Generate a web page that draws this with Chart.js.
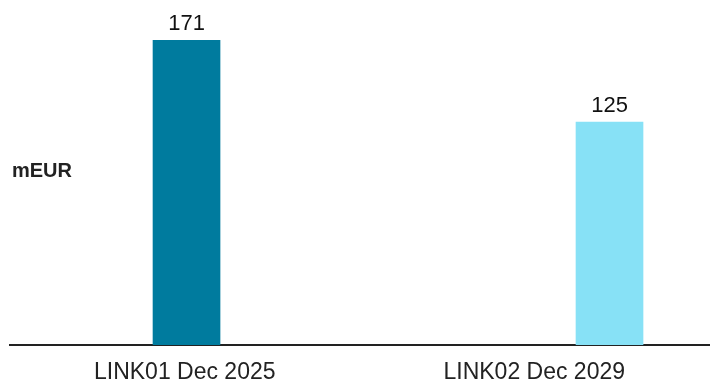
<!DOCTYPE html>
<html>
<head>
<meta charset="utf-8">
<script src="https://cdn.jsdelivr.net/npm/chart.js@4/dist/chart.umd.min.js"></script>
<style>
  html, body { margin: 0; padding: 0; background: #fff; }
  .wrap { position: relative; width: 710px; height: 381px; }
</style>
</head>
<body>
<div class="wrap"><canvas id="chart"></canvas></div>
<script>
const categories = ['LINK01 Dec 2025', 'LINK02 Dec 2029'];
const values = [171, 125];
const unitLabel = 'mEUR';

const barColors = ['#007b9e', '#87e1f6'];

Chart.defaults.font.family = "'Liberation Sans', Arial, sans-serif";

// value labels above bars + unit text on the left
const labelsPlugin = {
  id: 'labels',
  afterDatasetsDraw(chart) {
    const ctx = chart.ctx;
    ctx.save();
    ctx.fillStyle = '#111';
    ctx.font = "22px 'Liberation Sans', Arial, sans-serif";
    ctx.textAlign = 'center';
    ctx.textBaseline = 'alphabetic';
    chart.getDatasetMeta(0).data.forEach((bar, i) => {
      ctx.fillText(String(values[i]), bar.x, bar.y - 10);
    });
    ctx.font = "bold 20px 'Liberation Sans', Arial, sans-serif";
    ctx.textAlign = 'left';
    ctx.fillStyle = '#222';
    ctx.fillText(unitLabel, 12, 177);
    ctx.restore();
  }
};

new Chart(document.getElementById('chart'), {
  type: 'bar',
  data: {
    labels: categories,
    datasets: [{
      data: values.map((v, i) => ({ x: i, y: v })),
      xAxisID: 'xb',
      backgroundColor: barColors,
      borderWidth: 0,
      barThickness: 67
    }]
  },
  options: {
    responsive: true,
    maintainAspectRatio: false,
    animation: false,
    layout: { padding: { top: 40, left: 10, right: 1, bottom: 0 } },
    plugins: {
      legend: { display: false },
      tooltip: { enabled: false }
    },
    scales: {
      x: {
        type: 'category',
        offset: true,
        grid: { display: false, drawTicks: false },
        border: { display: true, color: '#222', width: 2 },
        ticks: { color: '#222', font: { size: 23 }, padding: 14, maxRotation: 0 },
        afterFit(scale) { scale.height = 36; }
      },
      xb: {
        type: 'linear',
        display: false,
        offset: false,
        min: -0.4173,
        max: 1.2352
      },
      y: {
        display: false,
        min: 0,
        max: 171
      }
    }
  },
  plugins: [labelsPlugin]
});
</script>
</body>
</html>
